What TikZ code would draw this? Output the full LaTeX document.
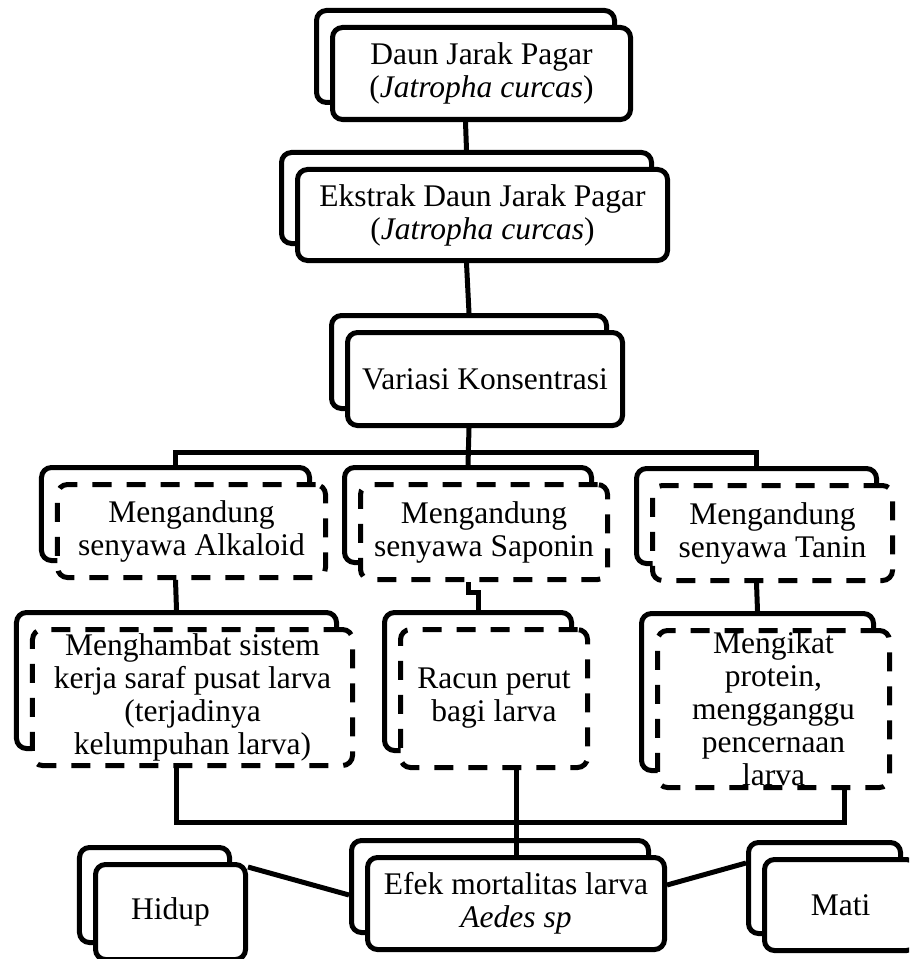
\documentclass[tikz,border=0pt]{standalone}
\usepackage{fontspec}
\setmainfont{Liberation Serif}
\usetikzlibrary{shadows}
\tikzset{
  stacknode/.style={rectangle,draw=black,line width=2pt,rounded corners=4pt,
    fill=white,align=center,inner sep=0pt,font=\fontsize{12.6}{13.2}\selectfont,
    copy shadow={shadow xshift=-6.4pt,shadow yshift=6.8pt,draw=black,
      fill=white,solid,line width=2pt}},
  dashnode/.style={stacknode,dash pattern=on 7.6pt off 6pt},
  link/.style={line width=2pt},
}

\begin{document}
\begin{tikzpicture}[x=0.4pt,y=-0.4pt]
  \clip (0,0) rectangle (909,959);

  %% ── Top chain ─────────────────────────────────────────────────────────────
  \node[stacknode,minimum width=119.2pt,minimum height=36.8pt] (daun) at (481.5,73.5)
    {Daun Jarak Pagar\\(\textit{Jatropha curcas})};
  \node[stacknode,minimum width=148pt,minimum height=36.4pt] (ekstrak) at (482.5,215)
    {Ekstrak Daun Jarak Pagar\\(\textit{Jatropha curcas})};
  \node[stacknode,minimum width=110pt,minimum height=37.2pt] (variasi) at (485,379)
    {Variasi Konsentrasi};

  %% ── Compounds ─────────────────────────────────────────────────────────────
  \node[dashnode,minimum width=107.2pt,minimum height=37.2pt] (alkaloid) at (191.5,531)
    {Mengandung\\senyawa Alkaloid};
  \node[dashnode,minimum width=98.8pt,minimum height=38pt] (saponin) at (484,532)
    {Mengandung\\senyawa Saponin};
  \node[dashnode,minimum width=96pt,minimum height=38pt] (tanin) at (772.5,533)
    {Mengandung\\senyawa Tanin};

  %% ── Effects ───────────────────────────────────────────────────────────────
  \node[dashnode,minimum width=128pt,minimum height=54.4pt] (menghambat) at (192.5,697.5)
    {Menghambat sistem\\kerja saraf pusat larva\\(terjadinya\\kelumpuhan larva)};
  \node[dashnode,minimum width=74.8pt,minimum height=55.2pt] (racun) at (494,698.5)
    {Racun perut\\bagi larva};
  \node[dashnode,minimum width=92.8pt,minimum height=62.8pt] (mengikat) at (773.5,709)
    {Mengikat\\protein,\\mengganggu\\pencernaan\\larva};

  %% ── Outcome ───────────────────────────────────────────────────────────────
  \node[stacknode,minimum width=118.8pt,minimum height=36.8pt] (efek) at (516,903.5)
    {Efek mortalitas larva\\\textit{Aedes sp}};
  \node[stacknode,minimum width=60pt,minimum height=38pt] (hidup) at (170.5,912) {Hidup};
  \node[stacknode,minimum width=60.8pt,minimum height=36.4pt] (mati) at (840.5,905) {Mati};

  \coordinate (bustop) at (469,452);
  \coordinate (busbot) at (516,822);

  %% ── Connectors ────────────────────────────────────────────────────────────
  \draw[link] ([xshift=-6.4pt]daun.south) -- ([xshift=-6.4pt,yshift=6.8pt]ekstrak.north);
  \draw[link] ([xshift=-6.4pt]ekstrak.south) -- ([xshift=-6.4pt,yshift=6.8pt]variasi.north);
  \draw[link] ([xshift=-6.4pt]variasi.south) -- ([xshift=-6.4pt,yshift=6.8pt]saponin.north);
  \draw[link] ([xshift=-6.4pt,yshift=6.8pt]alkaloid.north) |- (bustop)
    -| ([xshift=-6.4pt,yshift=6.8pt]tanin.north);

  \draw[link] ([xshift=-6.4pt]alkaloid.south) -- ([xshift=-6.4pt,yshift=6.8pt]menghambat.north);
  \draw[link] ([xshift=-6.4pt]saponin.south) -- ++(0,-4pt)
    -| ([xshift=-6.4pt,yshift=6.8pt]racun.north);
  \draw[link] ([xshift=-6.4pt]tanin.south) -- ([xshift=-6.4pt,yshift=6.8pt]mengikat.north);

  \draw[link] ([xshift=-6.4pt]menghambat.south) |- (busbot)
    -| ([xshift=-19pt]mengikat.south east);
  \draw[link] (efek.north) -- (efek.north |- racun.south);

  \draw[link] ([yshift=-2pt]hidup.north east) -- ([xshift=-6.4pt,yshift=3.4pt]efek.west);
  \draw[link] ([yshift=7.4pt]efek.east) -- ([xshift=-6.4pt,yshift=16.8pt]mati.west);

\end{tikzpicture}
\end{document}
